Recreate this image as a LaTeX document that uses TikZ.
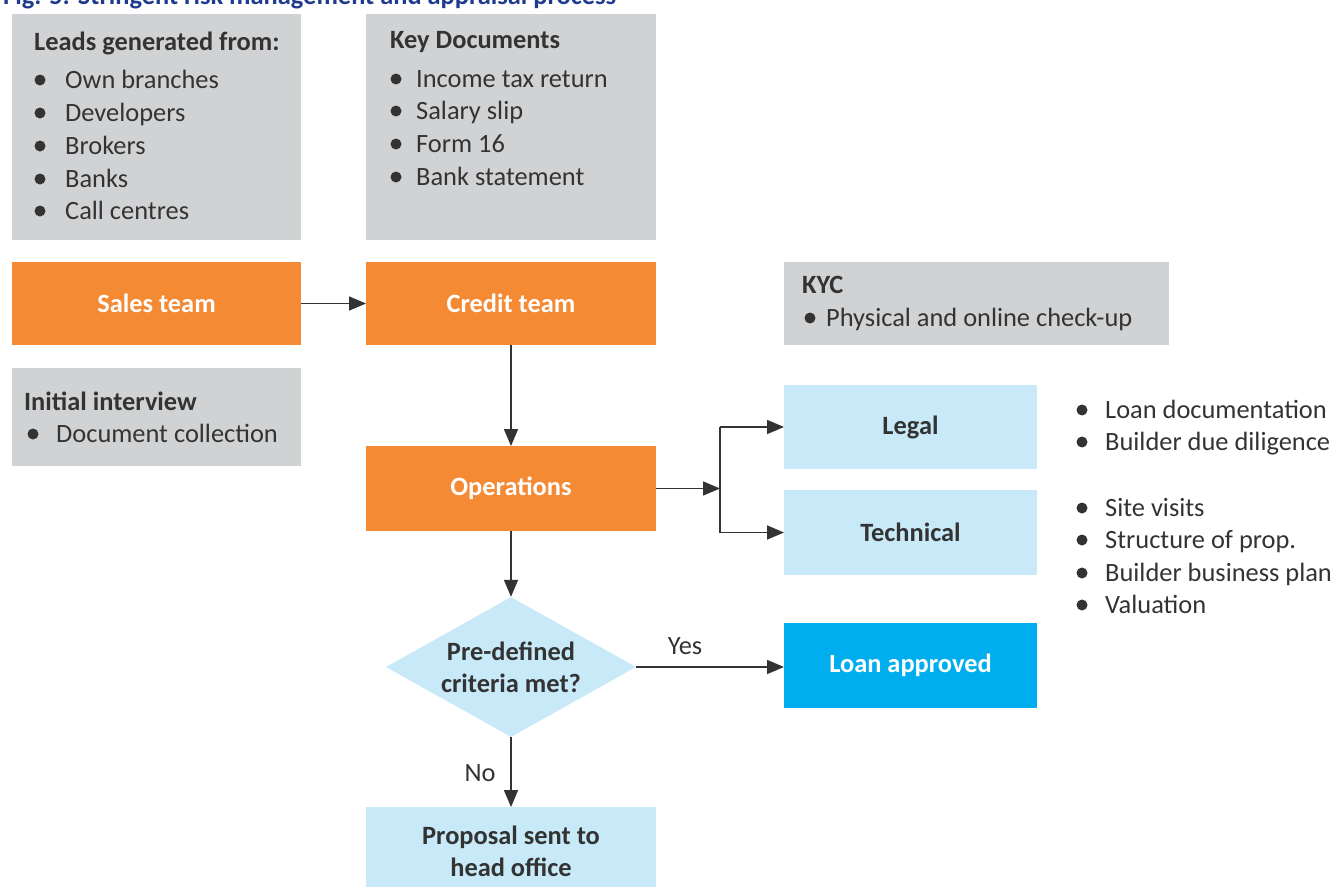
\documentclass[tikz,border=0pt]{standalone}
\usepackage{fontspec}
\setmainfont{Carlito}
\usetikzlibrary{arrows.meta, shapes.geometric, positioning}
\definecolor{boxgray}{HTML}{D1D2D4}
\definecolor{teamorange}{HTML}{F58A34}
\definecolor{paleblue}{HTML}{C7E9F8}
\definecolor{brightblue}{HTML}{00AEEF}
\definecolor{txtgray}{HTML}{333333}
\definecolor{titleblue}{HTML}{1F3B8F}

\begin{document}
\begin{tikzpicture}[x=1pt, y=-1pt,
        font=\fontsize{26.4}{32}\selectfont, text=txtgray,
        panel/.style={inner sep=0, outer sep=0},
        graybox/.style={panel, fill=boxgray},
        orangebox/.style={panel, fill=teamorange, text=white, font=\fontsize{26.4}{32}\selectfont\bfseries},
        lightbox/.style={panel, fill=paleblue, font=\fontsize{26.4}{32}\selectfont\bfseries, align=center},
        heading/.style={anchor=base west, inner sep=0, font=\fontsize{26.4}{32}\selectfont\bfseries},
        item/.style={anchor=base west, inner sep=0},
        dot/.style={circle, fill=txtgray, inner sep=0, minimum size=11},
        arr/.style={draw=txtgray, line width=1.6, -{Triangle[length=17, width=14]}},
        conn/.style={draw=txtgray, line width=1.6}]
    \useasboundingbox (0,0) rectangle (1338,886);
    \clip (0,0) rectangle (1338,886);

    % title, cut off at the top
    \node[heading, text=titleblue] (title) at (3,5) {Fig. 5: Stringent risk management and appraisal process};

    % grey info boxes
    \node[graybox, minimum width=289, minimum height=226] (leads) at (156.5,127) {};
    \node[graybox, minimum width=290, minimum height=226] (docs) at (511,127) {};
    \node[graybox, minimum width=385, minimum height=83] (kyc) at (976.5,303.5) {};
    \node[graybox, minimum width=289, minimum height=98] (interview) at (156.5,417) {};

    \node[heading] (leadshead) at (34,50) {Leads generated from:};
    \foreach \txt/\yy [count=\i] in {Own branches/80, Developers/113, Brokers/146, Banks/179, Call centres/211}{
        \node[dot] (leaddot\i) at (40,\yy) {};
        \node[item] (lead\i) at (65,\yy+8) {\txt};
    }

    \node[heading] (docshead) at (390,48) {Key Documents};
    \foreach \txt/\yy [count=\i] in {Income tax return/79, Salary slip/111, Form 16/144, Bank statement/177}{
        \node[dot] (docdot\i) at (396,\yy) {};
        \node[item] (doc\i) at (416,\yy+8) {\txt};
    }

    \node[heading] (kychead) at (802,293) {KYC};
    \node[dot] (kycdot) at (810,318) {};
    \node[item] (kyc1) at (826,326) {Physical and online check-up};

    \node[heading] (interviewhead) at (24,410) {Initial interview};
    \node[dot] (interviewdot) at (33,434) {};
    \node[item] (interview1) at (56,442) {Document collection};

    % process boxes
    \node[orangebox, minimum width=289, minimum height=83] (sales) at (156.5,303.5) {Sales team};
    \node[orangebox, minimum width=290, minimum height=83] (credit) at (511,303.5) {Credit team};
    \node[orangebox, minimum width=290, minimum height=85] (ops) at (511,488.5) {Operations};
    \node[lightbox, minimum width=253, minimum height=84] (legal) at (910.5,427) {Legal};
    \node[lightbox, minimum width=253, minimum height=85] (tech) at (910.5,532.5) {Technical};
    \node[panel, fill=brightblue, text=white, font=\fontsize{26.4}{32}\selectfont\bfseries,
          minimum width=253, minimum height=85] (loan) at (910.5,665.5) {Loan approved};
    \node[lightbox, minimum width=290, minimum height=88] (proposal) at (511,851) {Proposal sent to\\head office};
    \node[diamond, fill=paleblue, inner sep=0, minimum width=250, minimum height=140] (crit) at (511,667) {};
    \node[align=center, inner sep=0, font=\fontsize{26.4}{32}\selectfont\bfseries] (critlabel) at (511,667) {Pre-defined\\criteria met?};

    % side notes
    \foreach \txt/\yy [count=\i] in {Loan documentation/410, Builder due diligence/442}{
        \node[dot] (legaldot\i) at (1082,\yy) {};
        \node[item] (legalnote\i) at (1105,\yy+8) {\txt};
    }
    \foreach \txt/\yy [count=\i] in {Site visits/508, Structure of prop./540, Builder business plan/573, Valuation/605}{
        \node[dot] (techdot\i) at (1082,\yy) {};
        \node[item] (technote\i) at (1105,\yy+8) {\txt};
    }

    % connectors
    \coordinate (split) at (720,488.5);
    \draw[arr] (sales.east) -- (credit.west);
    \draw[arr] (credit.south) -- (ops.north);
    \draw[arr] (ops.east) -- (split);
    \draw[conn] (split |- legal.west) -- (split |- tech.west);
    \draw[arr] (split |- legal.west) -- (legal.west);
    \draw[arr] (split |- tech.west) -- (tech.west);
    \draw[arr] (ops.south) -- (crit.north);
    \draw[arr] (crit.east) -- (crit.east -| loan.west);
    \draw[arr] (crit.south) -- (proposal.north);
    \node[inner sep=0] (yes) at (685,646) {Yes};
    \node[inner sep=0] (no) at (480,773) {No};
\end{tikzpicture}
\end{document}
